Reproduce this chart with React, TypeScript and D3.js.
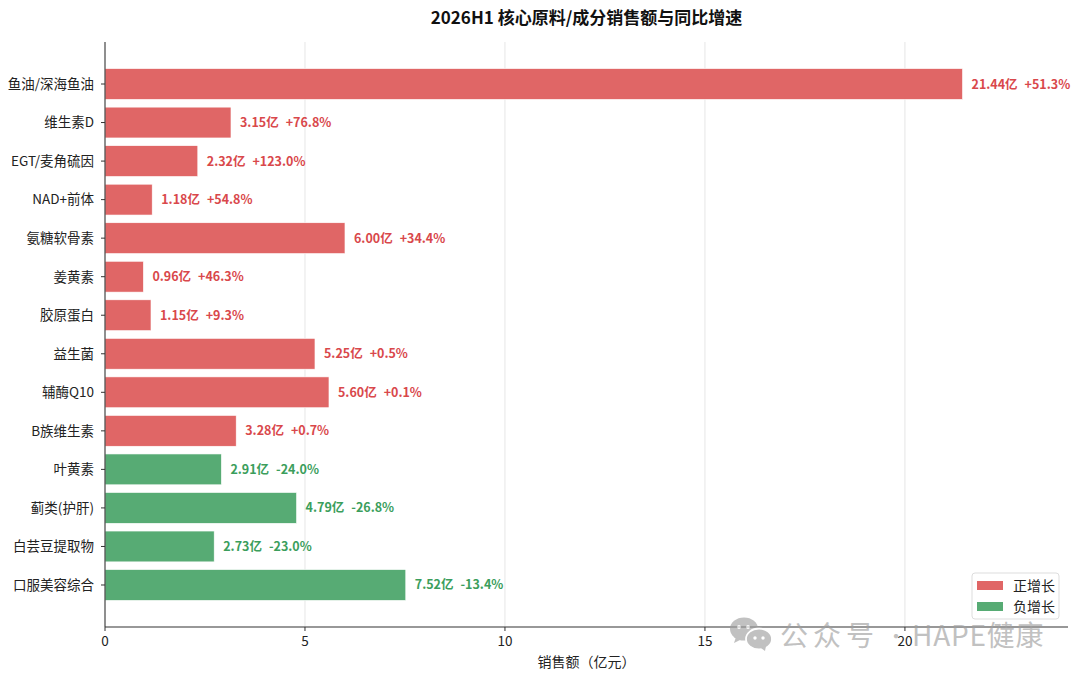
import React, { useEffect, useRef } from 'react';
import * as d3 from 'd3';

const categories = [
  '鱼油/深海鱼油', '维生素D', 'EGT/麦角硫因', 'NAD+前体', '氨糖软骨素', '姜黄素', '胶原蛋白',
  '益生菌', '辅酶Q10', 'B族维生素', '叶黄素', '蓟类(护肝)', '白芸豆提取物', '口服美容综合',
];
const sales = [21.44, 3.15, 2.32, 1.18, 6.0, 0.96, 1.15, 5.25, 5.6, 3.28, 2.91, 4.79, 2.73, 7.52];
const growth = [51.3, 76.8, 123.0, 54.8, 34.4, 46.3, 9.3, 0.5, 0.1, 0.7, -24.0, -26.8, -23.0, -13.4];
const xTicks = [0, 5, 10, 15, 20];
const legendItems = ['正增长', '负增长'];

const FONT = '"Noto Sans CJK SC", "Noto Sans", sans-serif';
const RED = '#e06666';
const GREEN = '#57ab74';
const RED_TEXT = '#d9484b';
const GREEN_TEXT = '#3b9e5c';

export default function App() {
  const svgRef = useRef<SVGSVGElement | null>(null);

  useEffect(() => {
    if (!svgRef.current) return;
    const svg = d3.select(svgRef.current);
    svg.selectAll('*').remove();

    const width = 1080;
    const height = 679;
    const margin = { top: 42, right: 12, bottom: 52, left: 105 };
    const innerW = width - margin.left - margin.right;
    const innerH = height - margin.top - margin.bottom;

    const xMax = d3.max(sales)! * 1.123;
    const x = d3.scaleLinear().domain([0, xMax]).range([0, innerW]);
    const n = categories.length;
    // matplotlib-like y limits
    const y = d3.scaleLinear().domain([-1.09, n - 1 + 1.09]).range([0, innerH]);
    const unit = y(1) - y(0);
    const barH = unit * 0.8;

    svg.append('rect').attr('width', width).attr('height', height).attr('fill', '#fff');

    svg.append('text')
      .attr('x', margin.left + innerW / 2)
      .attr('y', 24)
      .attr('text-anchor', 'middle')
      .attr('font-family', FONT)
      .attr('font-size', 17)
      .attr('font-weight', 'bold')
      .attr('fill', '#111')
      .text('2026H1 核心原料/成分销售额与同比增速');

    const g = svg.append('g').attr('transform', `translate(${margin.left},${margin.top})`);

    // grid
    g.selectAll('.grid')
      .data(xTicks.slice(1))
      .enter()
      .append('line')
      .attr('x1', d => x(d))
      .attr('x2', d => x(d))
      .attr('y1', 0)
      .attr('y2', innerH)
      .attr('stroke', '#e6e6e6')
      .attr('stroke-width', 1);

    // bars
    g.selectAll('.bar')
      .data(sales)
      .enter()
      .append('rect')
      .attr('x', 0)
      .attr('y', (_, i) => y(i) - barH / 2)
      .attr('width', d => x(d))
      .attr('height', barH)
      .attr('fill', (_, i) => (growth[i] >= 0 ? RED : GREEN))
      .attr('stroke', '#fff')
      .attr('stroke-width', 0.6);

    // value labels
    const lbl = g.selectAll('.lbl')
      .data(sales)
      .enter()
      .append('text')
      .attr('x', d => x(d) + 9)
      .attr('y', (_, i) => y(i))
      .attr('dy', '0.36em')
      .attr('font-family', FONT)
      .attr('font-size', 12.5)
      .attr('font-weight', 'bold')
      .attr('fill', (_, i) => (growth[i] >= 0 ? RED_TEXT : GREEN_TEXT));
    lbl.append('tspan').text(d => `${d.toFixed(2)}亿`);
    lbl.append('tspan').attr('dx', 7)
      .text((_, i) => `${growth[i] >= 0 ? '+' : ''}${growth[i].toFixed(1)}%`);

    // y axis
    const yAxis = g.append('g');
    yAxis.append('line').attr('x1', 0).attr('x2', 0).attr('y1', 0).attr('y2', innerH)
      .attr('stroke', '#333').attr('stroke-width', 1.1);
    const yt = yAxis.selectAll('.yt').data(categories).enter().append('g')
      .attr('transform', (_, i) => `translate(0,${y(i)})`);
    yt.append('line').attr('x1', -4).attr('x2', 0).attr('stroke', '#333');
    yt.append('text')
      .attr('x', -11)
      .attr('dy', '0.36em')
      .attr('text-anchor', 'end')
      .attr('font-family', FONT)
      .attr('font-size', 13.5)
      .attr('fill', '#222')
      .text(d => d);

    // x axis
    const xAxis = g.append('g').attr('transform', `translate(0,${innerH})`);
    const xt = xAxis.selectAll('.xt').data(xTicks).enter().append('g')
      .attr('transform', d => `translate(${x(d)},0)`);
    xt.append('line').attr('y1', 0).attr('y2', 4).attr('stroke', '#333');
    xt.append('text')
      .attr('y', 19)
      .attr('text-anchor', 'middle')
      .attr('font-family', FONT)
      .attr('font-size', 13.5)
      .attr('fill', '#222')
      .text(d => String(d));

    g.append('text')
      .attr('x', innerW / 2)
      .attr('y', innerH + 40)
      .attr('text-anchor', 'middle')
      .attr('font-family', FONT)
      .attr('font-size', 14)
      .attr('fill', '#222')
      .text('销售额（亿元）');

    // legend
    const lg = svg.append('g').attr('transform', 'translate(972,573)');
    lg.append('rect').attr('width', 87).attr('height', 46).attr('rx', 3)
      .attr('fill', '#fff').attr('fill-opacity', 0.85).attr('stroke', '#ddd');
    const li = lg.selectAll('.li').data(legendItems).enter().append('g')
      .attr('transform', (_, i) => `translate(5,${8 + i * 21})`);
    li.append('rect').attr('width', 26).attr('height', 9)
      .attr('fill', (_, i) => (i === 0 ? RED : GREEN));
    li.append('text')
      .attr('x', 36)
      .attr('y', 4.5)
      .attr('dy', '0.36em')
      .attr('font-family', FONT)
      .attr('font-size', 14)
      .attr('fill', '#222')
      .text(d => d);

    // watermark
    const wm = svg.append('g').attr('opacity', 0.65);
    const icon = wm.append('g').attr('transform', 'translate(730,617)').attr('fill', '#a0a0a0');
    icon.append('ellipse').attr('cx', 14).attr('cy', 12).attr('rx', 14).attr('ry', 11.5);
    icon.append('ellipse').attr('cx', 29).attr('cy', 22).attr('rx', 13).attr('ry', 10.5)
      .attr('stroke', '#fff').attr('stroke-width', 1.8);
    icon.append('path').attr('d', 'M31,31 L35,34 L36,29 Z');
    icon.append('path').attr('d', 'M6,20 L4,26 L12,22 Z');
    [[9, 10], [18, 10]].forEach(([cx, cy]) => icon.append('circle').attr('cx', cx).attr('cy', cy).attr('r', 1.9).attr('fill', '#fff'));
    [[25, 21], [33, 21]].forEach(([cx, cy]) => icon.append('circle').attr('cx', cx).attr('cy', cy).attr('r', 1.7).attr('fill', '#fff'));
    const wt = wm.append('text')
      .attr('y', 646)
      .attr('font-family', FONT)
      .attr('font-size', 28)
      .attr('fill', '#a0a0a0');
    wt.append('tspan').attr('x', 780).attr('letter-spacing', 5).text('公众号');
    wt.append('tspan').attr('x', 886).attr('font-size', 20).attr('dy', -2).text('·');
    wt.append('tspan').attr('x', 912).attr('dy', 2).attr('letter-spacing', 0.8).text('HAPE健康');

    // x axis spine drawn over the watermark, as in the reference
    xAxis.append('line').attr('x1', 0).attr('x2', innerW).attr('stroke', '#333').attr('stroke-width', 1.1);
  }, []);

  return (
    <svg
      ref={svgRef}
      width={1080}
      height={679}
      style={{ position: 'absolute', left: 0, top: 0, display: 'block' }}
    />
  );
}
